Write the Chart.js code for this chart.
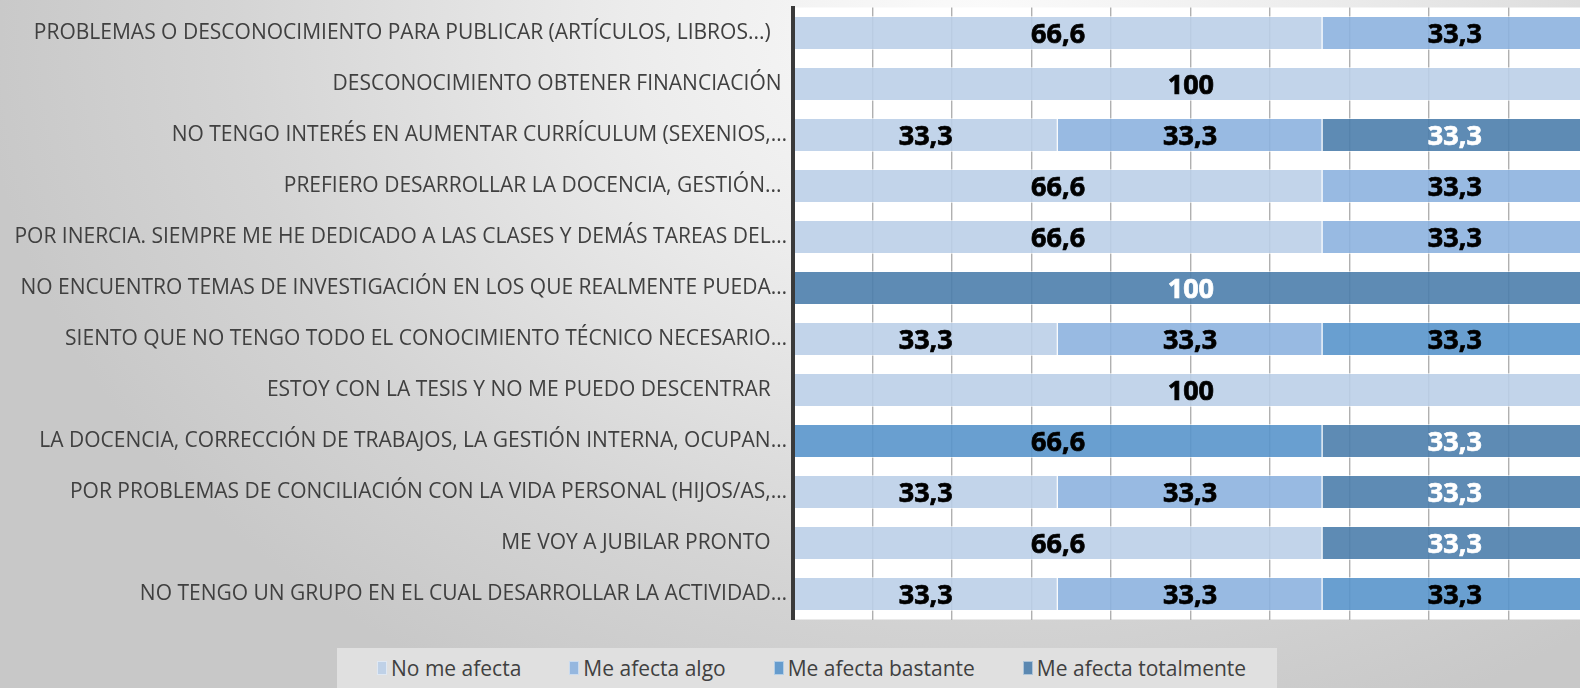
<!DOCTYPE html>
<html>
<head>
<meta charset="utf-8">
<script src="https://cdn.jsdelivr.net/npm/chart.js@4.4.1/dist/chart.umd.min.js"></script>
<style>
    html, body { margin: 0; padding: 0; overflow: hidden; }
    body {
        width: 1580px; height: 688px; position: relative;
        background: radial-gradient(ellipse 1000px 760px at 62% 4%, #fbfbfb 0%, #ececec 35%, #d4d4d4 75%, #c8c8c8 100%);
    }
    #wrap { position: absolute; left: 0; top: 0; width: 1600px; height: 688px; }
    #legend {
        position: absolute; left: 337px; top: 648px; width: 940px; height: 40px;
        background: #e0e0e0; display: flex; align-items: center; padding-left: 40px; box-sizing: border-box;
        font-family: "Open Sans", sans-serif; white-space: nowrap;
        font-size: 21px; color: #404040;
    }
    #legend .item { display: flex; align-items: center; margin-right: 48px; }
    #legend .box { width: 10px; height: 14px; margin-right: 4px; box-sizing: border-box; border: 1px solid rgba(255,255,255,0.5); }
</style>
</head>
<body>
<div id="wrap"><canvas id="myChart" width="1600" height="688"></canvas></div>
<div id="legend"></div>
<script>
var categories = [
    'PROBLEMAS O DESCONOCIMIENTO PARA PUBLICAR (ARTÍCULOS, LIBROS...)   ',
    'DESCONOCIMIENTO OBTENER FINANCIACIÓN ',
    'NO TENGO INTERÉS EN AUMENTAR CURRÍCULUM (SEXENIOS,…',
    'PREFIERO DESARROLLAR LA DOCENCIA, GESTIÓN... ',
    'POR INERCIA. SIEMPRE ME HE DEDICADO A LAS CLASES Y DEMÁS TAREAS DEL…',
    'NO ENCUENTRO TEMAS DE INVESTIGACIÓN EN LOS QUE REALMENTE PUEDA…',
    'SIENTO QUE NO TENGO TODO EL CONOCIMIENTO TÉCNICO NECESARIO…',
    'ESTOY CON LA TESIS Y NO ME PUEDO DESCENTRAR   ',
    'LA DOCENCIA, CORRECCIÓN DE TRABAJOS, LA GESTIÓN INTERNA, OCUPAN…',
    'POR PROBLEMAS DE CONCILIACIÓN CON LA VIDA PERSONAL (HIJOS/AS,…',
    'ME VOY A JUBILAR PRONTO   ',
    'NO TENGO UN GRUPO EN EL CUAL DESARROLLAR LA ACTIVIDAD…'
];
var seriesNames = ['No me afecta', 'Me afecta algo', 'Me afecta bastante', 'Me afecta totalmente'];
var noMeAfecta = [66.6, 100, 33.3, 66.6, 66.6, null, 33.3, 100, null, 33.3, 66.6, 33.3];
var meAfectaAlgo = [33.3, null, 33.3, 33.3, 33.3, null, 33.3, null, null, 33.3, null, 33.3];
var meAfectaBastante = [null, null, null, null, null, null, 33.3, null, 66.6, null, null, 33.3];
var meAfectaTotalmente = [null, null, 33.3, null, null, 100, null, null, 33.3, 33.3, 33.3, null];
var xTicks = [0, 10, 20, 30, 40, 50, 60, 70, 80, 90, 100];

var fills = ['rgba(187,207,232,0.9)', 'rgba(141,179,223,0.9)', 'rgba(89,149,203,0.9)', 'rgba(77,126,172,0.9)'];
var labelColors = ['#000000', '#000000', '#000000', '#ffffff'];

init();

function init() {
    var values = [noMeAfecta, meAfectaAlgo, meAfectaBastante, meAfectaTotalmente];
    var datasets = seriesNames.map(function (name, i) {
        return {
            label: name,
            data: values[i],
            backgroundColor: fills[i],
            borderColor: 'rgba(255,255,255,0.55)',
            borderWidth: 1,
            barPercentage: 0.667,
            categoryPercentage: 1
        };
    });

    // white plot background
    var plotBg = {
        id: 'plotBg',
        beforeDraw: function (chart) {
            var a = chart.chartArea;
            chart.ctx.save();
            chart.ctx.fillStyle = '#ffffff';
            chart.ctx.fillRect(a.left, a.top, a.right - a.left, a.bottom - a.top);
            chart.ctx.restore();
        }
    };

    // value labels in the middle of each segment
    var valueLabels = {
        id: 'valueLabels',
        afterDatasetsDraw: function (chart) {
            var ctx = chart.ctx;
            ctx.save();
            ctx.font = 'bold 27px "Open Sans", sans-serif';
            ctx.textAlign = 'center';
            ctx.textBaseline = 'middle';
            ctx.lineWidth = 0.7;
            chart.data.datasets.forEach(function (ds, i) {
                chart.getDatasetMeta(i).data.forEach(function (bar, j) {
                    var v = ds.data[j];
                    if (v == null) return;
                    var p = bar.getCenterPoint();
                    var txt = String(v).replace('.', ',');
                    ctx.fillStyle = labelColors[i];
                    ctx.strokeStyle = labelColors[i];
                    ctx.fillText(txt, p.x, p.y + 2);
                    ctx.strokeText(txt, p.x, p.y + 2);
                });
            });
            ctx.restore();
        }
    };

    var ctx = document.getElementById('myChart').getContext('2d');
    var chart = new Chart(ctx, {
        type: 'bar',
        data: { labels: categories, datasets: datasets },
        plugins: [plotBg, valueLabels],
        options: {
            indexAxis: 'y',
            responsive: false,
            animation: false,
            layout: { padding: { top: 7.5, right: 12, left: 0, bottom: 0 } },
            plugins: { legend: { display: false }, tooltip: { enabled: false } },
            scales: {
                x: {
                    stacked: true,
                    min: 0,
                    max: 100,
                    afterBuildTicks: function (scale) {
                        scale.ticks = xTicks.map(function (v) { return { value: v }; });
                    },
                    ticks: { display: false },
                    grid: { color: '#b0b0b0', lineWidth: 1.4, drawTicks: false },
                    border: { display: false },
                    afterFit: function (scale) {
                        scale.height = 68.5;
                        scale.paddingLeft = 0;
                        scale.paddingRight = 0;
                    }
                },
                y: {
                    stacked: true,
                    grid: { display: false, drawTicks: false },
                    border: { display: true, color: '#3a3a3a', width: 4, z: 1 },
                    ticks: {
                        color: '#404040',
                        padding: 6,
                        autoSkip: false,
                        font: { family: '"Open Sans", sans-serif', size: 21 }
                    },
                    afterFit: function (scale) {
                        scale.width = 793;
                        scale.paddingTop = 0;
                        scale.paddingBottom = 0;
                    }
                }
            }
        }
    });

    var legend = document.getElementById('legend');
    chart.data.datasets.forEach(function (ds) {
        var item = document.createElement('div');
        item.className = 'item';
        var box = document.createElement('span');
        box.className = 'box';
        box.style.background = ds.backgroundColor;
        var txt = document.createElement('span');
        txt.textContent = ds.label;
        item.appendChild(box);
        item.appendChild(txt);
        legend.appendChild(item);
    });
}
</script>
</body>
</html>
